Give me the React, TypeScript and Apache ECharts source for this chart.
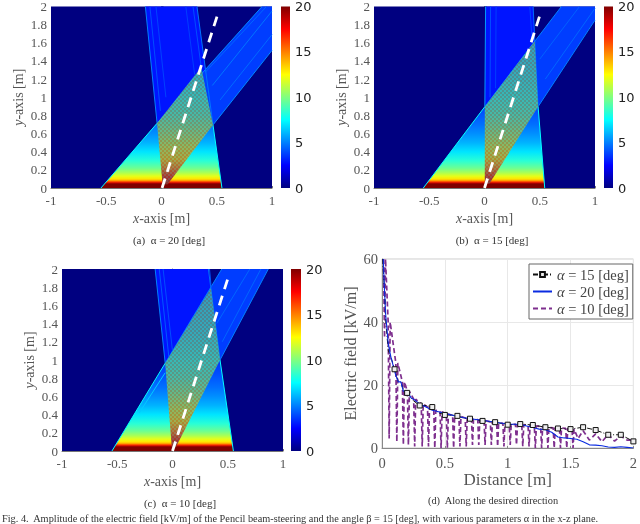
import React, { useEffect, useRef } from "react";
import * as echarts from "echarts";

// ---------- field panels: regions in data coordinates (x [m], y [m]) ----------
const fullField = [[-1, 0], [1, 0], [1, 2], [-1, 2]];
const apertureProfile = [[0, 20], [0.045, 20], [0.055, 18.5], [0.07, 16], [0.085, 14], [0.1, 13], [0.13, 12], [0.17, 10.8], [0.22, 9.6], [0.3, 8.3], [0.4, 7], [0.5, 6], [0.6, 5.3], [0.7, 4.7], [0.85, 4], [1.0, 3.5]];
const overlapProfile = [[0.04, 19.5], [0.12, 18], [0.22, 15], [0.32, 13], [0.45, 11.5], [0.6, 10], [0.8, 8.4], [1.0, 7.6], [1.3, 6.8], [1.8, 6.2]];
const backgroundValue = 0;
const riseValue = 3.7;
const fallValue = 2.9;

const aAperture = [[-0.548, 0], [0.547, 0], [0.466, 0.695], [-0.04, 0.713]];
const aRise = [[-0.04, 0.713], [0.91, 2], [1, 2], [1, 1.517], [0.466, 0.695]];
const aFall = [[-0.04, 0.713], [-0.146, 2], [0.321, 2], [0.466, 0.695]];
const aOverlap = [[0.01, 0.04], [-0.04, 0.713], [0.36, 1.33], [0.466, 0.695], [0.055, 0.04]];
const aStreaks = [
  [-0.548, 0, -0.04, 0.713, 7.5], [0.547, 0, 0.466, 0.695, 7.5],
  [-0.04, 0.713, 0.91, 2, 5.2], [0.466, 0.695, 1, 1.517, 5.2],
  [0.53, 0.97, 1, 1.69, 4.6], [0.46, 1.13, 1, 1.95, 4.8], [0.4, 1.28, 0.95, 2, 4.5],
  [-0.04, 0.713, -0.146, 2, 5], [0.466, 0.695, 0.321, 2, 4.8],
  [-0.01, 0.85, -0.105, 2, 4], [0.04, 1.0, -0.05, 2, 3.8], [0.36, 1.33, 0.285, 2, 4], [0.3, 1.25, 0.22, 2, 3.7],
];
const aSteering = [[0.005, 0], [0.505, 1.9]];

const bAperture = [[-0.554, 0], [0.545, 0], [0.485, 0.896], [0.003, 0.896]];
const bRise = [[0.003, 0.896], [0.696, 2], [1, 2], [1, 1.85], [0.485, 0.896]];
const bFall = [[0.003, 0.896], [0.01, 2], [0.44, 2], [0.485, 0.896]];
const bOverlap = [[0.003, 0.05], [0.003, 0.896], [0.455, 1.62], [0.485, 0.896], [0.045, 0.05]];
const bStreaks = [
  [-0.554, 0, 0.003, 0.896, 7.5], [0.545, 0, 0.485, 0.896, 7.5],
  [0.003, 0.896, 0.696, 2, 5], [0.485, 0.896, 1, 1.85, 5],
  [0.55, 1.2, 1, 1.98, 4.5], [0.5, 1.42, 0.86, 2, 4.4],
  [0.003, 0.896, 0.01, 2, 5.5], [0.485, 0.896, 0.44, 2, 4.6],
  [0.05, 1.0, 0.055, 2, 4], [0.1, 1.1, 0.105, 2, 3.7], [0.43, 1.65, 0.41, 2, 3.8],
];
const bSteering = [[0, 0], [0.5, 1.9]];

const cAperture = [[-0.548, 0], [0.551, 0], [0.43, 1.0], [-0.066, 0.965]];
const cRise = [[-0.066, 0.965], [0.446, 2], [0.867, 2], [0.43, 1.0]];
const cFall = [[-0.066, 0.965], [-0.157, 2], [0.325, 2], [0.43, 1.0]];
const cOverlap = [[-0.006, 0.04], [-0.066, 0.965], [0.348, 1.79], [0.43, 1.0], [0.03, 0.04]];
const cStreaks = [
  [-0.548, 0, -0.066, 0.965, 7.5], [0.551, 0, 0.43, 1.0, 7.5], [-0.3, 0.42, -0.066, 0.86, 6.5],
  [-0.066, 0.965, 0.446, 2, 5], [0.43, 1.0, 0.867, 2, 5], [0.45, 1.2, 0.8, 2, 4.5], [0.4, 1.4, 0.7, 2, 4.5],
  [-0.066, 0.965, -0.157, 2, 5], [0.43, 1.0, 0.325, 2, 4.8],
  [-0.03, 1.0, -0.12, 2, 4.2], [0.0, 1.1, -0.085, 2, 4], [0.35, 1.8, 0.335, 2, 4.2],
];
const cSteering = [[0, 0], [0.505, 1.91]];

const colorbarTop = [20];
const colorbarSamples = [0, 2.5, 5, 7.5, 10, 12.5, 15, 17.5, 20];

// ---------- panel (d): electric field along the desired direction ----------
const names = ["α = 15 [deg]", "α = 20 [deg]", "α = 10 [deg]"];
const dist15 = [0.005, 0.02, 0.03, 0.05, 0.07, 0.1, 0.13, 0.15, 0.17, 0.2, 0.25, 0.3, 0.35, 0.4, 0.45, 0.5, 0.55, 0.6, 0.65, 0.7, 0.8, 0.9, 1, 1.1, 1.2, 1.3, 1.4, 1.5, 1.6, 1.7, 1.8, 1.9, 2];
const field15 = [60, 50, 40, 31, 29, 25, 21, 21, 18.5, 17.5, 15, 13.5, 13.5, 13, 11.2, 10.5, 10.5, 10.2, 9.5, 9.3, 8.6, 8.2, 7.4, 7.6, 7.3, 6.6, 6.2, 6, 6.6, 5.7, 4.2, 4.2, 2.1];
const marked15 = [0.1, 0.2, 0.3, 0.4, 0.5, 0.6, 0.7, 0.8, 0.9, 1, 1.1, 1.2, 1.3, 1.4, 1.5, 1.6, 1.7, 1.8, 1.9, 2];
const dist20 = [0.01, 0.02, 0.03, 0.05, 0.07, 0.09, 0.11, 0.13, 0.15, 0.17, 0.2, 0.23, 0.25, 0.3, 0.35, 0.4, 0.45, 0.5, 0.6, 0.7, 0.8, 0.9, 1, 1.1, 1.15, 1.2, 1.25, 1.3, 1.35, 1.4, 1.45, 1.5, 1.55, 1.6, 1.65, 1.7, 1.75, 1.8, 1.85, 1.9, 1.95, 2];
const field20 = [60, 50, 42, 33, 29, 26, 23, 21, 21, 18, 18, 16, 15.5, 14, 13, 12, 11.5, 11, 10, 9.3, 8.8, 8.2, 7.6, 7.5, 7, 6.5, 6, 5.8, 5, 3.5, 3.2, 3, 2.8, 2, 1, 0.9, 0.7, 0.3, 0.2, 0.4, 0.2, 0];
// alpha = 10: deep narrow fringes hanging from an upper envelope, then a shallow ripple at the far end
const fringeDist10 = [0.02, 0.057, 0.118, 0.17, 0.21, 0.26, 0.32, 0.37, 0.42, 0.47, 0.52, 0.57, 0.62, 0.67, 0.72, 0.77, 0.82, 0.87, 0.92, 0.97, 1.02, 1.07, 1.12, 1.17, 1.22, 1.27, 1.32, 1.37, 1.42, 1.47, 1.52];
const fringeHigh10 = [60, 40, 27, 21, 18, 15.5, 14, 13, 12, 11.5, 10.8, 10.3, 10, 9.5, 9.2, 9, 8.6, 8.3, 8, 7.8, 7.5, 7.5, 7.4, 7.2, 7, 6.8, 6.5, 6.4, 6.3, 6.2, 6];
const fringeLow10 = [35, 3, 2, 1, 1, 0.5, 0.5, 0.5, 0, 0, 0, 0, 0.5, 0.5, 1, 1, 1, 1, 0.5, 0.5, 1, 1, 0.5, 0.5, 0, 0, 0, 0, 0, 0, 0];
const rippleDist10 = [1.56, 1.6, 1.65, 1.7, 1.75, 1.8, 1.85, 1.9, 1.95, 2];
const rippleField10 = [3, 5.5, 2.5, 4.5, 2, 4.3, 2.2, 3.8, 2.5, 2.5];

const captions = ["(a)  α = 20 [deg]", "(b)  α = 15 [deg]", "(c)  α = 10 [deg]", "(d)  Along the desired direction"];
const figureNote = "Fig. 4.  Amplitude of the electric field [kV/m] of the Pencil beam-steering and the angle β = 15 [deg], with various parameters α in the x-z plane.";

// ---------- helpers ----------
const clamp = (v: number) => Math.max(0, Math.min(1, v));
const jetRgb = (v: number) => {
  const t = v / 20;
  return [clamp(1.5 - Math.abs(4 * t - 3)), clamp(1.5 - Math.abs(4 * t - 2)), clamp(1.5 - Math.abs(4 * t - 1))].map((c) => Math.round(c * 255));
};
const css = (c: number[]) => `rgb(${c[0]},${c[1]},${c[2]})`;
const jet = (v: number) => css(jetRgb(v));
const muted = (v: number) => css(jetRgb(v).map((c) => Math.round(c * 0.5 + 55)));
const profileAt = (p: number[][], y: number) => {
  if (y <= p[0][0]) return p[0][1];
  for (let i = 1; i < p.length; i++) {
    if (y <= p[i][0]) {
      const f = (y - p[i - 1][0]) / (p[i][0] - p[i - 1][0]);
      return p[i - 1][1] + f * (p[i][1] - p[i - 1][1]);
    }
  }
  return p[p.length - 1][1];
};
const gradientFill = (points: number[][], profile: number[][], paint: (v: number) => string) => {
  const ys = points.map((q) => q[1]);
  const lo = Math.min(...ys);
  const hi = Math.max(...ys);
  const levels = [lo, ...profile.map((s) => s[0]).filter((y) => y > lo && y < hi), hi];
  const stops = levels.map((y) => ({ offset: (hi - y) / (hi - lo), color: paint(profileAt(profile, y)) })).reverse();
  return new echarts.graphic.LinearGradient(0, 0, 0, 1, stops);
};
const ditherPattern = () => {
  const size = 4;
  const cv = document.createElement("canvas");
  cv.width = size;
  cv.height = size;
  const g = cv.getContext("2d");
  if (g) {
    g.fillStyle = "rgba(150,40,20,0.22)";
    g.fillRect(0, 0, 2, 2);
    g.fillRect(2, 2, 2, 2);
    g.fillStyle = "rgba(40,190,200,0.16)";
    g.fillRect(2, 0, 2, 2);
    g.fillRect(0, 2, 2, 2);
  }
  return { image: cv, repeat: "repeat" };
};

const fieldLayers = (aperture: number[][], rise: number[][], fall: number[][], overlap: number[][], streaks: number[][], pattern: any) => {
  const layers: any[] = [
    { kind: "polygon", points: fullField, fill: jet(backgroundValue) },
    { kind: "polygon", points: fall, fill: jet(fallValue) },
    { kind: "polygon", points: rise, fill: jet(riseValue) },
    { kind: "polygon", points: aperture, fill: gradientFill(aperture, apertureProfile, jet) },
  ];
  streaks.forEach((s) => layers.push({ kind: "line", points: [[s[0], s[1]], [s[2], s[3]]], stroke: jet(s[4]) }));
  layers.push({ kind: "polygon", points: overlap, fill: gradientFill(overlap, overlapProfile, muted) });
  layers.push({ kind: "polygon", points: overlap, fill: pattern });
  return layers;
};

const fieldSeries = (axisIndex: number, layers: any[]) => ({
  type: "custom",
  coordinateSystem: "cartesian2d",
  xAxisIndex: axisIndex,
  yAxisIndex: axisIndex,
  silent: true,
  z: 2,
  data: layers.map((_, i) => [i]),
  renderItem: (params: any, api: any) => {
    const layer = layers[params.dataIndex];
    const pts = layer.points.map((q: number[]) => api.coord(q));
    if (layer.kind === "line") {
      return { type: "polyline", shape: { points: pts }, style: { fill: "none", stroke: layer.stroke, lineWidth: 1 } };
    }
    return { type: "polygon", shape: { points: pts }, style: { fill: layer.fill } };
  },
});

const SERIF = "'Liberation Serif', serif";
const tickGrey = "#555";

const fieldGrids = [
  { left: 51, top: 6, width: 221, height: 182 },
  { left: 374, top: 6, width: 221, height: 182 },
  { left: 62, top: 269, width: 221, height: 182 },
];
const barGrids = [
  { left: 281, top: 6, width: 9, height: 182 },
  { left: 604, top: 6, width: 9, height: 182 },
  { left: 291, top: 269, width: 10, height: 182 },
];
const lineGrid = { left: 382, top: 259, width: 255, height: 189 };

const italicRich = { i: { fontStyle: "italic", fontFamily: SERIF, fontSize: 14, color: tickGrey } };

const buildOption = () => {
  const pattern = ditherPattern();
  const panels = [
    fieldLayers(aAperture, aRise, aFall, aOverlap, aStreaks, pattern),
    fieldLayers(bAperture, bRise, bFall, bOverlap, bStreaks, pattern),
    fieldLayers(cAperture, cRise, cFall, cOverlap, cStreaks, pattern),
  ];
  const steering = [aSteering, bSteering, cSteering];
  const xAxes: any[] = [];
  const yAxes: any[] = [];
  const series: any[] = [];
  fieldGrids.forEach((_, i) => {
    xAxes.push({
      type: "value", gridIndex: i, min: -1, max: 1, interval: 0.5,
      name: "{i|x}-axis [m]", nameLocation: "middle", nameGap: 23,
      nameTextStyle: { fontFamily: SERIF, fontSize: 14, color: tickGrey, rich: italicRich },
      axisLine: { lineStyle: { color: "#777" } },
      axisTick: { inside: true, length: 2, lineStyle: { color: "#777" } },
      axisLabel: { fontFamily: SERIF, fontSize: 13, color: tickGrey, margin: 6 },
      splitLine: { show: false },
    });
    yAxes.push({
      type: "value", gridIndex: i, min: 0, max: 2, interval: 0.2,
      name: "{i|y}-axis [m]", nameLocation: "middle", nameGap: 26,
      nameTextStyle: { fontFamily: SERIF, fontSize: 14, color: tickGrey, rich: italicRich },
      axisLine: { lineStyle: { color: "#777" } },
      axisTick: { inside: true, length: 2, lineStyle: { color: "#777" } },
      axisLabel: { fontFamily: SERIF, fontSize: 13, color: tickGrey, margin: 4 },
      splitLine: { show: false },
    });
    series.push(fieldSeries(i, panels[i]));
    series.push({
      type: "line", xAxisIndex: i, yAxisIndex: i, data: steering[i], symbol: "none", z: 5, silent: true,
      lineStyle: { color: "#fff", width: 2.8, type: [10, 7], cap: "butt" },
    });
  });
  barGrids.forEach((_, i) => {
    const idx = 3 + i;
    xAxes.push({ type: "category", gridIndex: idx, data: ["field"], show: false });
    yAxes.push({
      type: "value", gridIndex: idx, min: 0, max: 20, interval: 5, position: "right",
      axisLine: { show: false },
      axisTick: { inside: true, length: 2, lineStyle: { color: "#222" } },
      axisLabel: { fontFamily: "'DejaVu Sans', sans-serif", fontSize: 13, color: "#222", margin: 5 },
      splitLine: { show: false },
    });
    series.push({
      type: "bar", xAxisIndex: idx, yAxisIndex: idx, data: colorbarTop, barWidth: "100%", silent: true,
      itemStyle: {
        color: new echarts.graphic.LinearGradient(0, 0, 0, 1, colorbarSamples.map((v) => ({ offset: 1 - v / 20, color: jet(v) })).reverse()),
      },
    });
  });

  // panel (d)
  const d = 6;
  xAxes.push({
    type: "value", gridIndex: d, min: 0, max: 2, interval: 0.5,
    name: "Distance [m]", nameLocation: "middle", nameGap: 23,
    nameTextStyle: { fontFamily: SERIF, fontSize: 17, color: tickGrey },
    axisLine: { lineStyle: { color: "#888" } },
    axisTick: { inside: true, length: 2, lineStyle: { color: "#888" } },
    axisLabel: { fontFamily: SERIF, fontSize: 14.5, color: tickGrey, margin: 7 },
    splitLine: { show: true, lineStyle: { color: "#e8e8e8" } },
  });
  yAxes.push({
    type: "value", gridIndex: d, min: 0, max: 60, interval: 20,
    name: "Electric field [kV/m]", nameLocation: "middle", nameGap: 24,
    nameTextStyle: { fontFamily: SERIF, fontSize: 16, color: tickGrey },
    axisLine: { lineStyle: { color: "#888" } },
    axisTick: { inside: true, length: 2, lineStyle: { color: "#888" } },
    axisLabel: { fontFamily: SERIF, fontSize: 14.5, color: tickGrey, margin: 4 },
    splitLine: { show: true, lineStyle: { color: "#e8e8e8" } },
  });
  const series10: number[][] = [];
  fringeDist10.forEach((x, i) => {
    series10.push([x - 0.008, fringeHigh10[i]], [x, fringeLow10[i]], [x + 0.008, fringeHigh10[i]]);
  });
  rippleDist10.forEach((x, i) => series10.push([x, rippleField10[i]]));
  series.push({
    name: names[2], type: "line", xAxisIndex: d, yAxisIndex: d, symbol: "none", z: 3,
    data: series10,
    lineStyle: { color: "#7e2f8e", width: 1.7, type: [5, 3] },
    itemStyle: { color: "#7e2f8e" },
  });
  series.push({
    name: names[0], type: "line", xAxisIndex: d, yAxisIndex: d, symbol: "rect", symbolSize: 5, showAllSymbol: true, z: 4,
    data: dist15.map((x, i) => ({ value: [x, field15[i]], symbol: marked15.includes(x) ? "rect" : "none" })),
    lineStyle: { color: "#111", width: 1, type: [5, 2, 1, 2] },
    itemStyle: { color: "#eee", borderColor: "#111", borderWidth: 1 },
  });
  series.push({
    name: names[1], type: "line", xAxisIndex: d, yAxisIndex: d, symbol: "none", z: 4,
    data: dist20.map((x, i) => [x, field20[i]]),
    lineStyle: { color: "#0a2be0", width: 1.1 },
    itemStyle: { color: "#0a2be0" },
  });

  const capStyle = (text: string, x: number, y: number, size: number, align = "center") => ({
    type: "text", x, y,
    style: { text, fill: "#333", font: `${size}px ${SERIF}`, textAlign: align, textVerticalAlign: "middle" },
  });

  return {
    animation: false,
    backgroundColor: "#fff",
    grid: [...fieldGrids, ...barGrids, { ...lineGrid, show: true, borderColor: "#ccc", borderWidth: 1 }],
    xAxis: xAxes,
    yAxis: yAxes,
    series,
    legend: {
      data: [{ name: names[0] }, { name: names[1], itemStyle: { opacity: 0 } }, { name: names[2], itemStyle: { opacity: 0 } }],
      orient: "vertical", left: 529, top: 264, padding: [3, 4, 3, 3], itemGap: 2, itemWidth: 19, itemHeight: 6,
      backgroundColor: "#fff", borderColor: "#666", borderWidth: 1, borderRadius: 0,
      formatter: (n: string) => n.replace("α", "{i|α}"),
      textStyle: { fontFamily: SERIF, fontSize: 14.5, color: "#444", rich: { i: { fontStyle: "italic", fontFamily: SERIF, fontSize: 14.5, color: "#444" } } },
      selectedMode: false,
    },
    graphic: [
      capStyle(captions[0], 169, 240, 11),
      capStyle(captions[1], 492, 240, 11),
      capStyle(captions[2], 180, 503, 11),
      capStyle(captions[3], 493, 500, 10.4),
      capStyle(figureNote, 2, 518, 10.3, "left"),
    ],
  };
};

export default function App() {
  const ref = useRef<HTMLDivElement>(null);
  useEffect(() => {
    document.body.style.margin = "0";
    const chart = echarts.init(ref.current as HTMLDivElement, undefined, { renderer: "svg" });
    chart.setOption(buildOption() as any);
    return () => chart.dispose();
  }, []);
  return <div ref={ref} style={{ width: 640, height: 524, overflow: "hidden", filter: "blur(0.45px)" }} />;
}
